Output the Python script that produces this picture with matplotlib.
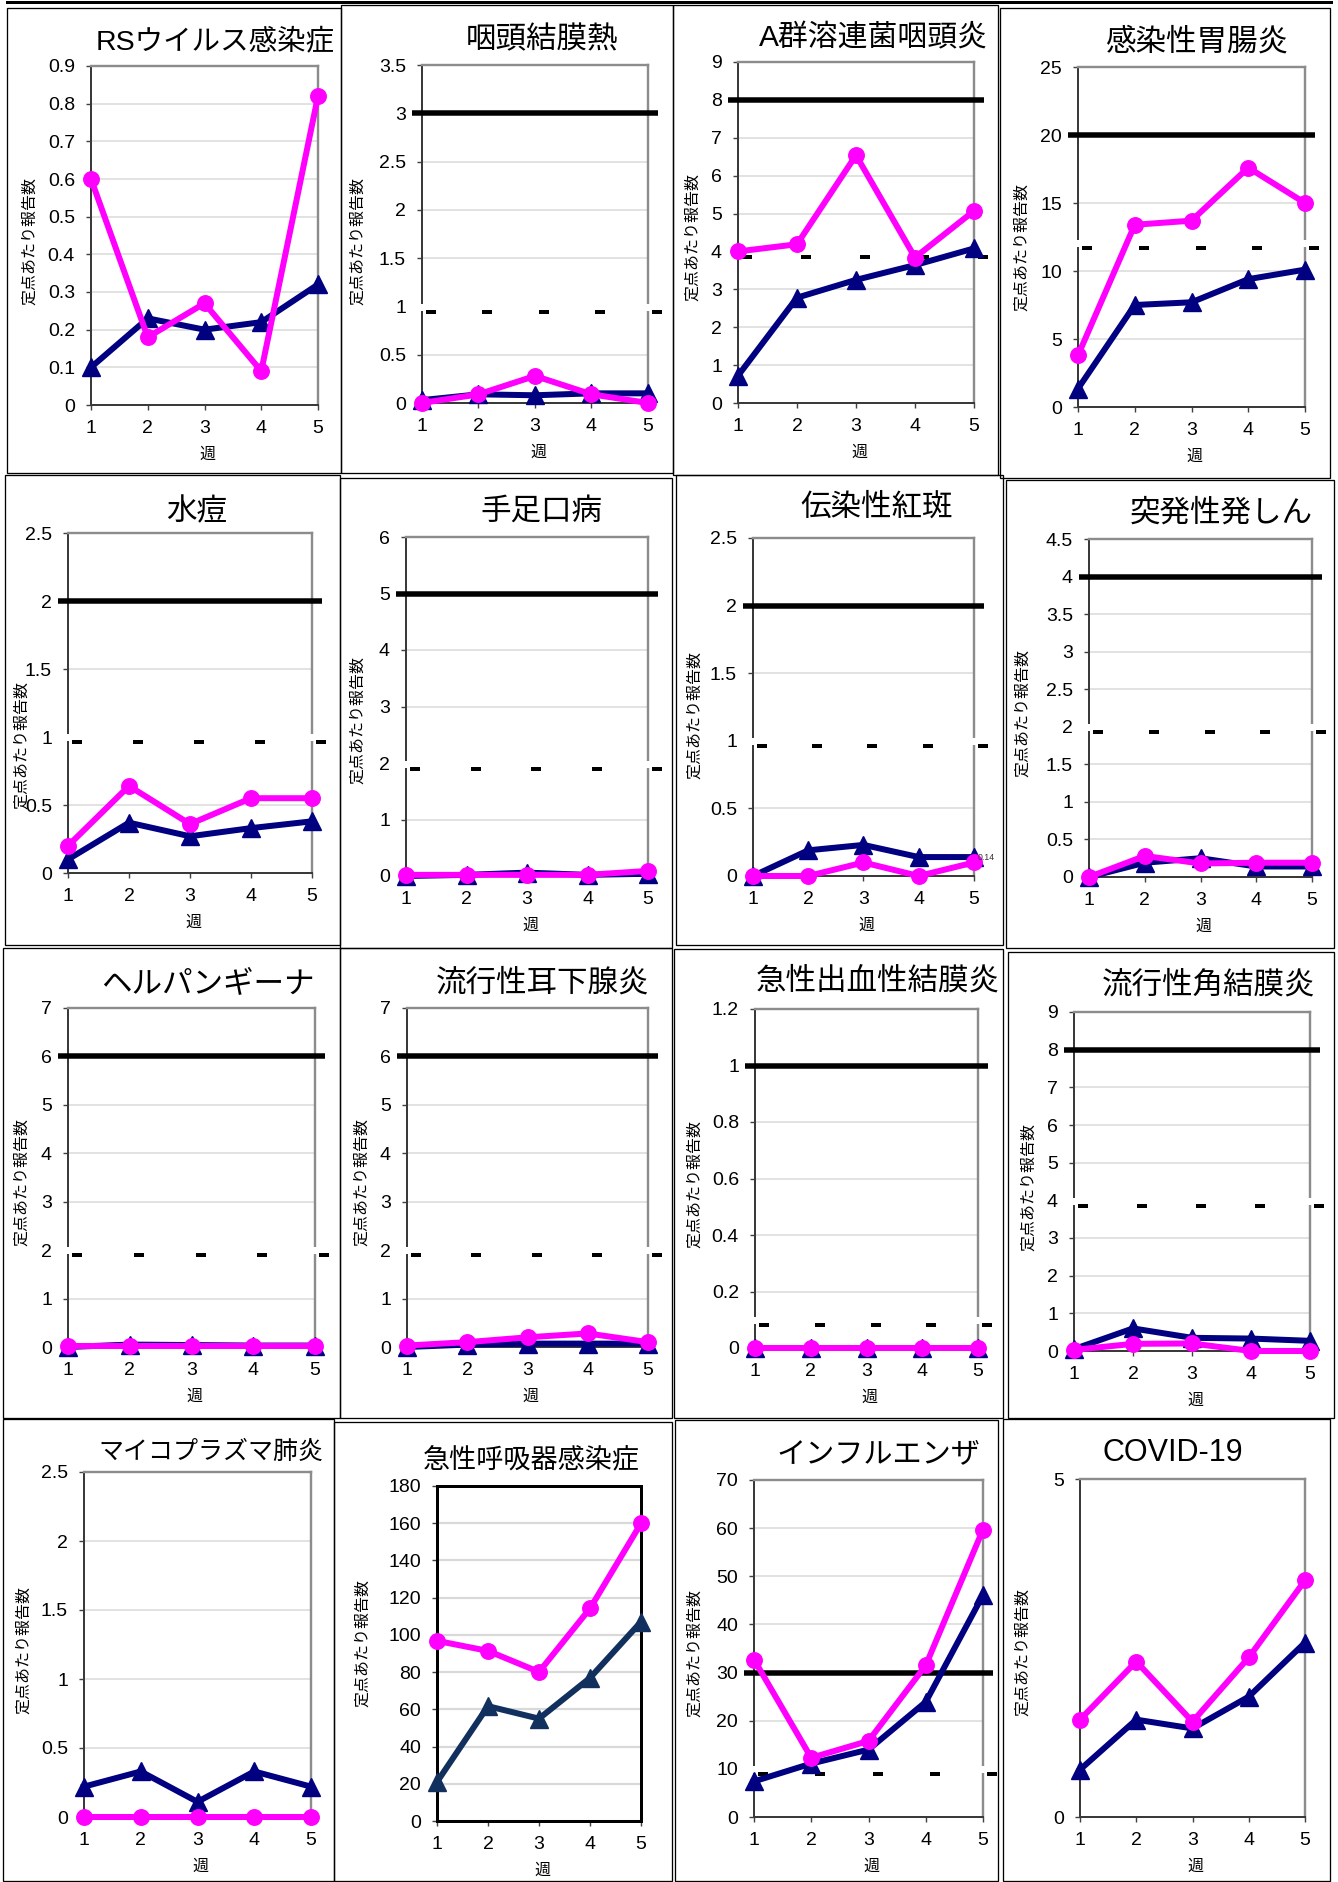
import numpy as np
import matplotlib
matplotlib.use('Agg')
import matplotlib.pyplot as plt
from matplotlib.patches import Rectangle
from matplotlib.lines import Line2D
import matplotlib.transforms as mtransforms

plt.rcParams['font.family'] = ['Liberation Sans', 'Noto Sans CJK JP', 'DejaVu Sans']

W, H, DPI = 1338, 1882, 100

# ---------------- data ----------------
weeks = [1, 2, 3, 4, 5]

titles = ['RSウイルス感染症', '咽頭結膜熱', 'A群溶連菌咽頭炎', '感染性胃腸炎',
          '水痘', '手足口病', '伝染性紅斑', '突発性発しん',
          'ヘルパンギーナ', '流行性耳下腺炎', '急性出血性結膜炎', '流行性角結膜炎',
          'マイコプラズマ肺炎', '急性呼吸器感染症', 'インフルエンザ', 'COVID-19']

# magenta circles
series_pink = [
    [0.60, 0.18, 0.27, 0.09, 0.82],
    [0.00, 0.09, 0.28, 0.09, 0.00],
    [4.00, 4.19, 6.54, 3.84, 5.07],
    [3.8, 13.4, 13.7, 17.6, 15.0],
    [0.20, 0.64, 0.36, 0.55, 0.55],
    [0.02, 0.02, 0.02, 0.02, 0.09],
    [0.00, 0.00, 0.10, 0.00, 0.10],
    [0.00, 0.28, 0.18, 0.19, 0.19],
    [0.02, 0.02, 0.02, 0.02, 0.02],
    [0.03, 0.10, 0.20, 0.28, 0.10],
    [0.00, 0.00, 0.00, 0.00, 0.00],
    [0.03, 0.19, 0.20, 0.00, 0.00],
    [0.00, 0.00, 0.00, 0.00, 0.00],
    [96.8, 91.4, 80.1, 114.2, 159.9],
    [32.7, 12.3, 15.8, 31.5, 59.7],
    [1.44, 2.30, 1.41, 2.36, 3.50],
]

# navy triangles
series_navy = [
    [0.10, 0.23, 0.20, 0.22, 0.32],
    [0.03, 0.09, 0.08, 0.10, 0.10],
    [0.72, 2.78, 3.25, 3.64, 4.08],
    [1.35, 7.5, 7.7, 9.4, 10.1],
    [0.10, 0.37, 0.27, 0.33, 0.38],
    [0.00, 0.02, 0.06, 0.02, 0.04],
    [0.00, 0.19, 0.23, 0.14, 0.14],
    [0.00, 0.19, 0.25, 0.14, 0.14],
    [0.00, 0.05, 0.04, 0.03, 0.03],
    [0.00, 0.05, 0.07, 0.07, 0.07],
    [0.00, 0.00, 0.00, 0.00, 0.00],
    [0.05, 0.60, 0.35, 0.33, 0.27],
    [0.22, 0.33, 0.11, 0.33, 0.22],
    [21.0, 61.7, 55.0, 76.9, 107.0],
    [7.4, 11.1, 14.0, 23.9, 46.1],
    [0.70, 1.44, 1.31, 1.78, 2.58],
]

# alert level (solid black) and end level (dashed black)
alert_level = [None, 3, 8, 20, 2, 5, 2, 4, 6, 6, 1, 8, None, None, 30, None]
end_level = [None, 0.94, 3.86, 11.7, 0.96, 1.89, 0.96, 1.93, 1.90, 1.90, 0.08, 3.86,
             None, None, 9.0, None]

y_max = [0.9, 3.5, 9, 25, 2.5, 6, 2.5, 4.5, 7, 7, 1.2, 9, 2.5, 180, 70, 5]
y_step = [0.1, 0.5, 1, 5, 0.5, 1, 0.5, 0.5, 1, 1, 0.2, 1, 0.5, 20, 10, 5]

ylabel_text = '定点あたり報告数'
xlabel_text = '週'

# ---------------- layout (pixels) ----------------
boxes = [
    (7, 8, 341, 473), (341, 5, 673, 473), (673, 5, 998, 475), (1000, 8, 1330, 478),
    (5, 475, 340, 945), (340, 478, 672, 948), (676, 475, 1003, 945), (1006, 480, 1334, 948),
    (3, 948, 340, 1418), (340, 948, 672, 1418), (674, 949, 1003, 1418), (1008, 952, 1334, 1418),
    (3, 1419, 334, 1881), (334, 1422, 672, 1881), (675, 1420, 998, 1881), (1003, 1419, 1330, 1881),
]
plots = [
    (91, 66, 318, 405), (422, 65, 648, 403), (738, 62, 974, 403), (1078, 67, 1305, 407),
    (68, 533, 312, 873), (406, 537, 648, 876), (753, 538, 974, 876), (1089, 539, 1312, 877),
    (68, 1008, 315, 1347), (407, 1008, 648, 1347), (755, 1009, 978, 1348), (1074, 1012, 1310, 1351),
    (84, 1472, 311, 1817), (437, 1486, 641, 1821), (754, 1480, 983, 1817), (1080, 1479, 1305, 1817),
]
title_pos = [
    (215, 42, 20.5), (542, 40, 22), (873, 38, 21.5), (1197, 43, 22),
    (197, 512, 22), (541, 512, 22), (877, 508, 22), (1221, 514, 22),
    (208, 984, 22), (543, 984, 22), (878, 982, 22), (1209, 986, 22),
    (211, 1452, 18), (531, 1461, 19.5), (878, 1454, 21), (1173, 1453, 22),
]
ylabel_pos = [
    (30, 241), (358, 241), (693, 237), (1022, 247),
    (22, 745), (358, 720), (695, 715), (1023, 713),
    (22, 1182), (362, 1182), (695, 1184), (1029, 1187),
    (24, 1650), (363, 1643), (695, 1653), (1023, 1652),
]

PX = 72.0 / DPI  # points per pixel

PINK = '#FF00FF'
NAVY = '#000080'
NAVY2 = '#12305E'

fig = plt.figure(figsize=(W / DPI, H / DPI), dpi=DPI)
fig.patch.set_facecolor('white')


def fx(x):
    return x / W


def fy(y):
    return 1 - y / H


# top border
fig.add_artist(Line2D([fx(7), fx(1331)], [fy(2), fy(2)], transform=fig.transFigure,
                      color='black', lw=3 * PX))

dash_marker = [(-1, -0.45), (1, -0.45), (1, 0.45), (-1, 0.45), (-1, -0.45)]

for i in range(16):
    x0, y0, x1, y1 = boxes[i]
    fig.add_artist(Rectangle((fx(x0), fy(y1)), (x1 - x0) / W, (y1 - y0) / H,
                             transform=fig.transFigure, fill=False, ec='black',
                             lw=1.3 * PX))
    px0, py0, px1, py1 = plots[i]
    pw = px1 - px0
    ax = fig.add_axes([fx(px0), fy(py1), pw / W, (py1 - py0) / H])
    ax.set_facecolor('white')
    ax.set_xlim(1, 5)
    ax.set_ylim(0, y_max[i])
    ticks = np.round(np.arange(0, y_max[i] + y_step[i] / 2, y_step[i]), 6)
    ax.set_yticks(ticks)
    ax.set_yticklabels([f'{t:g}' for t in ticks])
    ax.set_xticks(weeks)
    ax.set_xticklabels([str(w) for w in weeks])
    ax.tick_params(axis='both', labelsize=14, length=5 * PX, width=1.4 * PX,
                   color='#404040', direction='out')
    ax.tick_params(axis='y', pad=8)
    ax.tick_params(axis='x', pad=7)
    ax.set_axisbelow(True)
    if i != 15:
        ax.yaxis.grid(True, color='#D9D9D9', lw=(2.2 if i == 13 else 1.5) * PX)

    if i == 13:
        for s in ax.spines.values():
            s.set_color('black')
            s.set_linewidth(3 * PX)
    else:
        for s in ('left', 'bottom'):
            ax.spines[s].set_color('#3A3A3A')
            ax.spines[s].set_linewidth(2 * PX)
        for s in ('top', 'right'):
            ax.spines[s].set_color('#8C8C8C')
            ax.spines[s].set_linewidth(2.4 * PX)

    # alert (solid) line
    if alert_level[i] is not None:
        ext = 10.0 / pw
        ax.plot([-ext, 1 + ext], [alert_level[i]] * 2, transform=ax.get_yaxis_transform(),
                color='black', lw=5.5 * PX, solid_capstyle='butt', clip_on=False, zorder=3)
    # end (dashed) line
    if end_level[i] is not None:
        up = mtransforms.offset_copy(ax.get_yaxis_transform(), fig=fig, x=0, y=5, units='dots')
        ext = 7.0 / pw
        ax.plot([-ext, 1 + ext], [end_level[i]] * 2, transform=up, color='white',
                lw=7 * PX, solid_capstyle='butt', clip_on=False, zorder=2.7)
        right = mtransforms.offset_copy(ax.transData, fig=fig, x=9, y=0, units='dots')
        ax.plot(weeks, [end_level[i]] * len(weeks), transform=right, ls='none',
                marker=dash_marker, ms=10 * PX, mfc='black', mec='black', mew=0,
                clip_on=False, zorder=3.5)

    navy_c = NAVY2 if i == 13 else NAVY
    ax.plot(weeks, series_navy[i], color=navy_c, lw=6 * PX, marker='^', ms=18 * PX,
            mfc=navy_c, mec=navy_c, clip_on=False, zorder=4)
    ax.plot(weeks, series_pink[i], color=PINK, lw=6 * PX, marker='o', ms=15.5 * PX,
            mfc=PINK, mec=PINK, clip_on=False, zorder=5)

    if i == 6:
        v = series_navy[i][-1]
        ax.annotate(f'{v:g}', (weeks[-1], v), xytext=(4, 0), textcoords='offset pixels',
                    fontsize=6.3, ha='left', va='center', color='#333333',
                    annotation_clip=False, zorder=6)

    # texts
    tx, ty, tfs = title_pos[i]
    fig.text(fx(tx), fy(ty), titles[i], ha='center', va='center', fontsize=tfs,
             color='black')
    lx, ly = ylabel_pos[i]
    fig.text(fx(lx), fy(ly), ylabel_text, ha='center', va='center', rotation=90,
             fontsize=11.5, color='black')
    fig.text(fx((px0 + px1) / 2 + 3), fy(py1 + 49), xlabel_text, ha='center',
             va='center', fontsize=11.5, color='black')

fig.savefig('out.png', dpi=DPI, facecolor='white')
